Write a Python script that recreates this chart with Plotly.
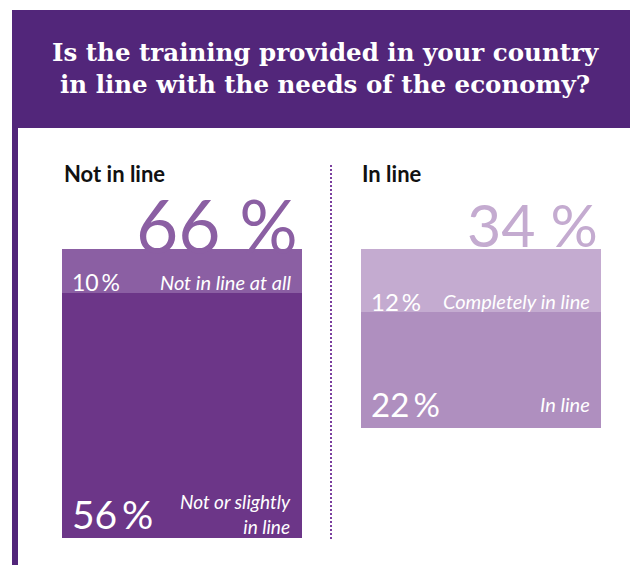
import plotly.graph_objects as go

# survey shares (%)
panel_titles = ["Not in line", "In line"]
not_in_line_values = [10, 56]
not_in_line_labels = ["Not in line at all", "Not or slightly<br>in line"]
in_line_values = [12, 22]
in_line_labels = ["Completely in line", "In line"]
question = ["Is the training provided in your country",
            "in line with the needs of the economy?"]

not_in_line_colors = ["#8b5fa3", "#6c3688"]
in_line_colors = ["#c4abd0", "#af8fbf"]
header_color = "#52267a"

# the page body has an 8px margin, so the figure is a bit smaller than the window
OFF = 8
W, H = 638 - OFF, 565 - OFF


def px(x):
    return (x - OFF) / W


def py(y):
    return 1 - (y - OFF) / H


fig = go.Figure()

panels = [
    ("x", "y", not_in_line_values, not_in_line_labels, not_in_line_colors),
    ("x2", "y2", in_line_values, in_line_labels, in_line_colors),
]
for xa, ya, vals, labels, colors in panels:
    for v, lab, c in zip(vals, labels, colors):
        fig.add_trace(go.Bar(x=[0], y=[v], width=1, xaxis=xa, yaxis=ya,
                             marker=dict(color=c, line=dict(width=0)),
                             hoverinfo="skip", showlegend=False))

fig.update_layout(
    width=W, height=H, margin=dict(l=0, r=0, t=0, b=0),
    paper_bgcolor="white", plot_bgcolor="rgba(0,0,0,0)",
    barmode="stack", bargap=0,
    xaxis=dict(domain=[px(62), px(302)], range=[-0.5, 0.5], visible=False),
    yaxis=dict(domain=[py(538), py(249)], range=[sum(not_in_line_values), 0], visible=False),
    xaxis2=dict(domain=[px(361), px(601)], range=[-0.5, 0.5], visible=False, anchor="y2"),
    yaxis2=dict(domain=[py(428), py(249)], range=[sum(in_line_values), 0],
                visible=False, anchor="x2"),
)

# header band + left stripe
fig.add_shape(type="rect", xref="paper", yref="paper", x0=px(12), x1=1,
              y0=py(128), y1=py(10), fillcolor=header_color, line_width=0, layer="below")
fig.add_shape(type="rect", xref="paper", yref="paper", x0=px(12), x1=px(18),
              y0=0, y1=py(10), fillcolor=header_color, line_width=0, layer="below")
# dotted divider
fig.add_shape(type="line", xref="paper", yref="paper", x0=px(331), x1=px(331),
              y0=py(165), y1=py(539), line=dict(color="#7b3f9e", width=2, dash="2px,2px"))

ann = []
for i, line in enumerate(question):
    ann.append(dict(text=line, x=px(325), y=py(53 + 31 * i), xref="paper", yref="paper",
                    xanchor="center", yanchor="middle", showarrow=False,
                    font=dict(family="DejaVu Serif", size=24.5, color="white", weight="bold")))

sans = "Lato"
title_x = [62, 360]
big_right = [300, 600]
big_size = [73, 59]
bottom_size = [39, 33]
top_size = [23, 24]
bar_left = [70, 369]
bar_right = [293, 592]
for k, (xa, ya, vals, labels, colors) in enumerate(panels):
    ann.append(dict(text="<b>%s</b>" % panel_titles[k], x=px(title_x[k]), y=py(174),
                    xref="paper", yref="paper", xanchor="left", yanchor="middle",
                    showarrow=False, font=dict(family=sans, size=22, color="#111111")))
    total = sum(vals)
    ann.append(dict(text="%d %%" % total, x=px(big_right[k]), y=py(225), xref="paper",
                    yref="paper", xanchor="right", yanchor="middle", showarrow=False,
                    font=dict(family=sans, size=big_size[k], color=colors[0])))
    cum = 0
    for j, (v, lab) in enumerate(zip(vals, labels)):
        cum += v
        big = j == len(vals) - 1
        shift = 24 if big else 11
        ann.append(dict(text="%d\u2009%%" % v, x=px(bar_left[k]), y=cum, xref="paper",
                        yref=ya, xanchor="left", yanchor="middle", yshift=shift,
                        showarrow=False,
                        font=dict(family=sans, size=bottom_size[k] if big else top_size[k],
                                  color="white")))
        ann.append(dict(text="<i>%s</i>" % lab, x=px(bar_right[k]), y=cum, xref="paper",
                        yref=ya, xanchor="right", yanchor="middle", align="right",
                        yshift=shift, showarrow=False,
                        font=dict(family=sans, size=19 if "<br>" in lab else 20,
                                  color="white")))

fig.update_layout(annotations=ann)
fig.write_html("out.html")
